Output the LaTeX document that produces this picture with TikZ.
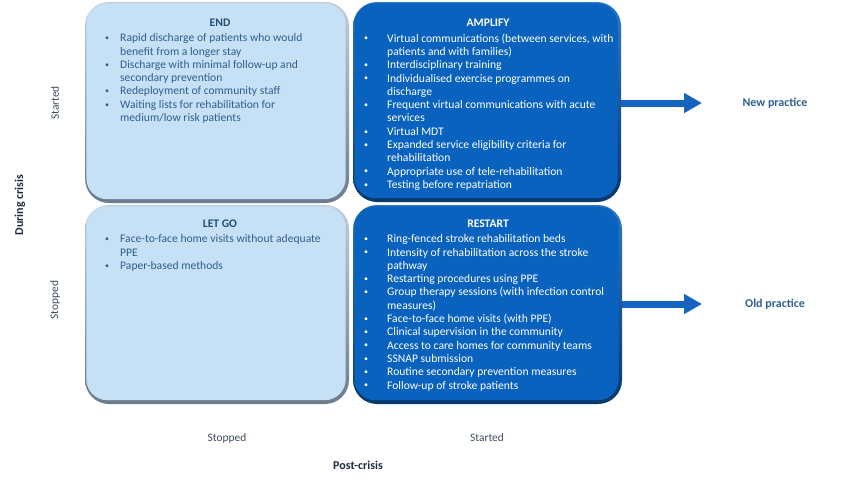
\documentclass[tikz,border=0pt]{standalone}
\usepackage{fontspec}
\setmainfont{Carlito}
\usetikzlibrary{arrows.meta}
\definecolor{lightfill}{HTML}{C6E0F6}
\definecolor{lightedgetop}{HTML}{C2CDD8}
\definecolor{lightedgebot}{HTML}{6C7C8E}
\definecolor{darkfill}{HTML}{0A62BF}
\definecolor{darkedgetop}{HTML}{2F78C8}
\definecolor{darkedgebot}{HTML}{07386E}
\definecolor{bodyblue}{HTML}{2F5F8F}
\definecolor{headblue}{HTML}{1F4E79}
\definecolor{axisdark}{HTML}{1F2A44}
\definecolor{axisgray}{HTML}{3E4B5B}
\definecolor{arrowblue}{HTML}{1565C0}
\newcommand{\smallbul}{\raisebox{1.2pt}{\fontsize{8}{8}\selectfont •}}
\newcommand{\itmA}{\makebox[15pt][l]{\smallbul}}
\newcommand{\cntA}{\hspace*{15pt}}
\newcommand{\itmB}{\makebox[23pt][l]{\smallbul}}
\newcommand{\cntB}{\hspace*{23pt}}
\tikzset{
  lightbox/.style={rounded corners=24pt, top color=lightedgetop, bottom color=lightedgebot, inner sep=0pt},
  darkbox/.style={rounded corners=24pt, top color=darkedgetop, bottom color=darkedgebot, inner sep=0pt},
  lightface/.style={rounded corners=21pt, fill=lightfill},
  darkface/.style={rounded corners=21pt, fill=darkfill},
  heading/.style={font=\fontsize{11.6}{13.3}\selectfont\bfseries, inner sep=0pt},
  list/.style={font=\fontsize{11.6}{13.3}\selectfont, align=left, anchor=north west, inner sep=0pt},
  axislbl/.style={font=\fontsize{11.4}{13}\selectfont, text=axisgray, inner sep=0pt},
  axistitle/.style={font=\fontsize{12}{13}\selectfont\bfseries, text=axisdark, inner sep=0pt},
  practice/.style={font=\fontsize{12}{13}\selectfont\bfseries, text=bodyblue, inner sep=0pt},
  bigarrow/.style={draw=arrowblue, line width=7pt, -{Triangle[length=18pt,width=19pt]}}
}
\begin{document}
\begin{tikzpicture}[x=1pt,y=-1pt]
\useasboundingbox (0,0) rectangle (850,490);
% boxes
\node[lightbox, minimum width=264pt, minimum height=201pt] (endbox) at (217,102.5) {};
\node[darkbox, minimum width=268pt, minimum height=200pt] (ampbox) at (487,102) {};
\node[lightbox, minimum width=264pt, minimum height=199pt] (letbox) at (217,304.5) {};
\node[darkbox, minimum width=269pt, minimum height=199pt] (resbox) at (487.5,304.5) {};
\fill[lightface] ([shift={(1.5,1.5)}]endbox.north west) rectangle ([shift={(-3.5,-4)}]endbox.south east);
\fill[darkface] ([shift={(1.5,1.5)}]ampbox.north west) rectangle ([shift={(-3.5,-4)}]ampbox.south east);
\fill[lightface] ([shift={(1.5,1.5)}]letbox.north west) rectangle ([shift={(-3.5,-4)}]letbox.south east);
\fill[darkface] ([shift={(1.5,1.5)}]resbox.north west) rectangle ([shift={(-3.5,-4)}]resbox.south east);
% headings
\node[heading, text=headblue] (endh) at (220,23) {END};
\node[heading, text=white] (amph) at (488,23) {AMPLIFY};
\node[heading, text=headblue] (leth) at (220,224) {LET GO};
\node[heading, text=white] (resh) at (488,224) {RESTART};
% lists
\node[list, text=bodyblue] (endl) at (105,33.5) {%
\itmA Rapid discharge of patients who would\\
\cntA benefit from a longer stay\\
\itmA Discharge with minimal follow-up and\\
\cntA secondary prevention\\
\itmA Redeployment of community staff\\
\itmA Waiting lists for rehabilitation for\\
\cntA medium/low risk patients};
\node[list, text=white] (ampl) at (364,33.5) {%
\itmB Virtual communications (between services, with\\
\cntB patients and with families)\\
\itmB Interdisciplinary training\\
\itmB Individualised exercise programmes on\\
\cntB discharge\\
\itmB Frequent virtual communications with acute\\
\cntB services\\
\itmB Virtual MDT\\
\itmB Expanded service eligibility criteria for\\
\cntB rehabilitation\\
\itmB Appropriate use of tele-rehabilitation\\
\itmB Testing before repatriation};
\node[list, text=bodyblue] (letl) at (105,234.5) {%
\itmA Face-to-face home visits without adequate\\
\cntA PPE\\
\itmA Paper-based methods};
\node[list, text=white] (resl) at (364,234.5) {%
\itmB Ring-fenced stroke rehabilitation beds\\
\itmB Intensity of rehabilitation across the stroke\\
\cntB pathway\\
\itmB Restarting procedures using PPE\\
\itmB Group therapy sessions (with infection control\\
\cntB measures)\\
\itmB Face-to-face home visits (with PPE)\\
\itmB Clinical supervision in the community\\
\itmB Access to care homes for community teams\\
\itmB SSNAP submission\\
\itmB Routine secondary prevention measures\\
\itmB Follow-up of stroke patients};
% practice labels and arrows
\node[practice] (newp) at (775,103) {New practice};
\node[practice] (oldp) at (775,304) {Old practice};
\coordinate (tipnew) at (702,103);
\coordinate (tipold) at (702,304);
\draw[bigarrow] (ampbox.east |- tipnew) -- (tipnew);
\draw[bigarrow] (resbox.east |- tipold) -- (tipold);
% axes labels
\node[axistitle, rotate=90] (during) at (20,205) {During crisis};
\node[axislbl, rotate=90] (ystart) at (55,103) {Started};
\node[axislbl, rotate=90] (ystop) at (55,300) {Stopped};
\node[axislbl] (xstop) at (227,438) {Stopped};
\node[axislbl] (xstart) at (487,438) {Started};
\node[axistitle] (post) at (358,465) {Post-crisis};
\end{tikzpicture}
\end{document}
